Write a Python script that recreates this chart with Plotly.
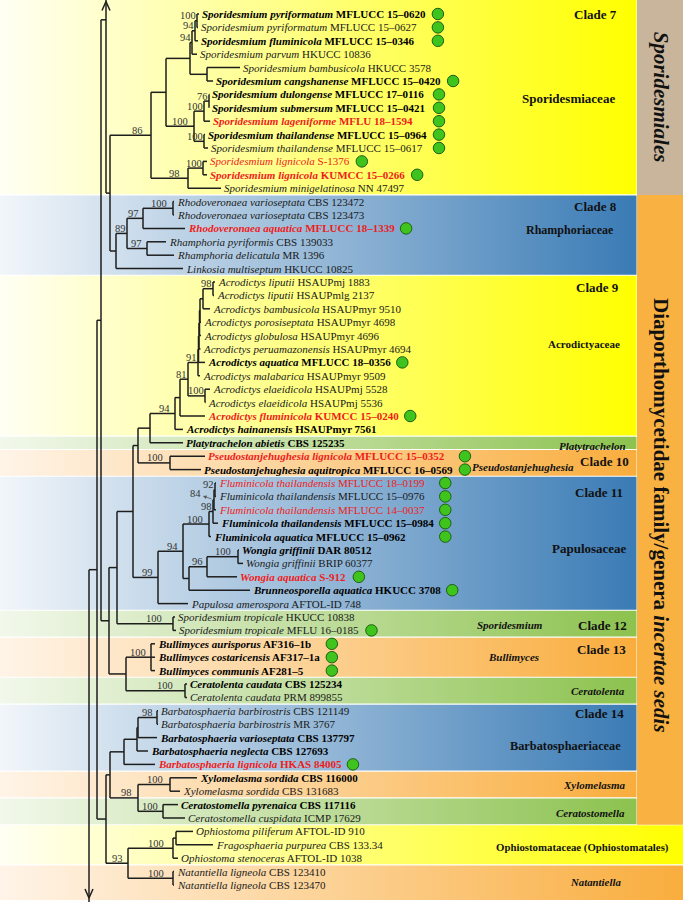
import plotly.graph_objects as go

# ---------------- leaf data (top to bottom) ----------------
taxa = [
    "Sporidesmium pyriformatum", "Sporidesmium pyriformatum", "Sporidesmium fluminicola",
    "Sporidesmium parvum", "Sporidesmium bambusicola", "Sporidesmium cangshanense",
    "Sporidesmium dulongense", "Sporidesmium submersum", "Sporidesmium lageniforme",
    "Sporidesmium thailandense", "Sporidesmium thailandense", "Sporidesmium lignicola",
    "Sporidesmium lignicola", "Sporidesmium minigelatinosa",
    "Rhodoveronaea varioseptata", "Rhodoveronaea varioseptata", "Rhodoveronaea aquatica",
    "Rhamphoria pyriformis", "Rhamphoria delicatula", "Linkosia multiseptum",
    "Acrodictys liputii", "Acrodictys liputii", "Acrodictys bambusicola",
    "Acrodictys porosiseptata", "Acrodictys globulosa", "Acrodictys peruamazonensis",
    "Acrodictys aquatica", "Acrodictys malabarica", "Acrodictys elaeidicola",
    "Acrodictys elaeidicola", "Acrodictys fluminicola", "Acrodictys hainanensis",
    "Platytrachelon abietis", "Pseudostanjehughesia lignicola", "Pseudostanjehughesia aquitropica",
    "Fluminicola thailandensis", "Fluminicola thailandensis", "Fluminicola thailandensis",
    "Fluminicola thailandensis", "Fluminicola aquatica", "Wongia griffinii",
    "Wongia griffinii", "Wongia aquatica", "Brunneosporella aquatica",
    "Papulosa amerospora", "Sporidesmium tropicale", "Sporidesmium tropicale",
    "Bullimyces aurisporus", "Bullimyces costaricensis", "Bullimyces communis",
    "Ceratolenta caudata", "Ceratolenta caudata", "Barbatosphaeria barbirostris",
    "Barbatosphaeria barbirostris", "Barbatosphaeria varioseptata", "Barbatosphaeria neglecta",
    "Barbatosphaeria lignicola", "Xylomelasma sordida", "Xylomelasma sordida",
    "Ceratostomella pyrenaica", "Ceratostomella cuspidata", "Ophiostoma piliferum",
    "Fragosphaeria purpurea", "Ophiostoma stenoceras", "Natantiella ligneola",
    "Natantiella ligneola",
]
strains = [
    "MFLUCC 15–0620", "MFLUCC 15–0627", "MFLUCC 15–0346", "HKUCC 10836", "HKUCC 3578",
    "MFLUCC 15–0420", "MFLUCC 17–0116", "MFLUCC 15–0421", "MFLU 18–1594", "MFLUCC 15–0964",
    "MFLUCC 15–0617", "S-1376", "KUMCC 15–0266", "NN 47497",
    "CBS 123472", "CBS 123473", "MFLUCC 18–1339", "CBS 139033", "MR 1396", "HKUCC 10825",
    "HSAUPmj 1883", "HSAUPmlg 2137", "HSAUPmyr 9510", "HSAUPmyr 4698", "HSAUPmyr 4696",
    "HSAUPmyr 4694", "MFLUCC 18–0356", "HSAUPmyr 9509", "HSAUPmj 5528", "HSAUPmj 5536",
    "KUMCC 15–0240", "HSAUPmyr 7561", "CBS 125235", "MFLUCC 15–0352", "MFLUCC 16–0569",
    "MFLUCC 18–0199", "MFLUCC 15–0976", "MFLUCC 14–0037", "MFLUCC 15–0984", "MFLUCC 15–0962",
    "DAR 80512", "BRIP 60377", "S-912", "HKUCC 3708", "AFTOL-ID 748",
    "HKUCC 10838", "MFLU 16–0185", "AF316–1b", "AF317–1a", "AF281–5",
    "CBS 125234", "PRM 899855", "CBS 121149", "MR 3767", "CBS 137797", "CBS 127693",
    "HKAS 84005", "CBS 116000", "CBS 131683", "CBS 117116", "ICMP 17629",
    "AFTOL-ID 910", "CBS 133.34", "AFTOL-ID 1038", "CBS 123410", "CBS 123470",
]
bold_flags = [1, 0, 1, 0, 0, 1, 1, 1, 1, 1, 0, 0, 1, 0,
              0, 0, 1, 0, 0, 0,
              0, 0, 0, 0, 0, 0, 1, 0, 0, 0, 1, 1,
              1, 1, 1,
              0, 0, 0, 1, 1, 1, 0, 1, 1, 0,
              0, 0, 1, 1, 1, 1, 0,
              0, 0, 1, 1, 1, 1, 0, 1, 0, 0, 0, 0, 0, 0]
red_flags = [0, 0, 0, 0, 0, 0, 0, 0, 1, 0, 0, 1, 1, 0,
             0, 0, 1, 0, 0, 0,
             0, 0, 0, 0, 0, 0, 0, 0, 0, 0, 1, 0,
             0, 1, 0,
             1, 0, 1, 0, 0, 0, 0, 1, 0, 0,
             0, 0, 0, 0, 0, 0, 0,
             0, 0, 0, 0, 1, 0, 0, 0, 0, 0, 0, 0, 0, 0]
# 0 = no marker; equal numbers share a marker column
dot_groups = [1, 1, 1, 0, 0, 2, 3, 3, 3, 3, 3, 4, 5, 0,
              0, 0, 6, 0, 0, 0,
              0, 0, 0, 0, 0, 0, 7, 0, 0, 0, 8, 0,
              0, 9, 9,
              10, 10, 10, 10, 10, 0, 0, 11, 12, 0,
              0, 13, 14, 14, 14, 0, 0,
              0, 0, 0, 0, 15, 0, 0, 0, 0, 0, 0, 0, 0, 0]

# ---------------- tree (Newick, branch lengths + bootstrap) ----------------
nwk_c7a = "(((L1:2,L2:1)100:2,L3:3)94:3,L4:5)94:2"
nwk_c7b = "(L5:33,L6:6):17"
nwk_c7c = "(((L7:0.5,L8:0)76:5,L9:6)100:10,(L10:1,L11:4)100:10)100:28"
nwk_c7d = "((L12:4,L13:4)100:15,L14:33)98:37"
nwk_clade8 = "((((L15:1,L16:1)100:30,L17:42)97:16,(L18:19,L19:27)97:20)89:11,L20:67):6"
nwk_c9comb = "((((((L21:2,L22:1)98:10,L23:7):3,L24:1):0.5,L25:1.5):0.5,L26:1.5):0.5,L27:6.5):0.5"
nwk_clade10 = "(L34:35,L35:31)100:32"
nwk_clade11 = ("((((((L36:1,L37:1)92:1,L38:2)84@:1,L39:5)98:4,L40:2)100:26,"
               "(((L41:1,L42:5)100:31,L43:30)96:18,L44:61):6)94:25,L45:30)99:25")
nwk_clade12 = "(L46:2,L47:3)100:56"
nwk_clade13 = "(L48:4,L49:4,L50:4)100:25"
nwk_ceratolenta = "(L51:2,L52:2)100:59"
nwk_clade14 = "((((L53:1,L54:1)98:19,L55:19):1,L56:11):13,L57:31):14"
nwk_xylo_cerato = "((L58:27,L59:10)100:32,(L60:15,L61:22)100:25)98:28"
nwk_ophio_natan = "(((L62:17,L63:37):3,L64:5)100:45,(L65:1,L66:1)100:45)93:22"

nwk_clade7 = "((({a},{b}):24,{c}):15,{d})86:41".format(a=nwk_c7a, b=nwk_c7b, c=nwk_c7c, d=nwk_c7d)
nwk_top = "(UP:0,({c7},{c8}):4):5".format(c7=nwk_clade7, c8=nwk_clade8)
nwk_clade9 = "(((({comb},L28:2)91:10,(L29:5,L30:0.5)100:17)81:8,L31:25):5,L32:8)94:25".format(comb=nwk_c9comb)
nwk_platy = "({c9},L33:33):12".format(c9=nwk_clade9)
newick = ("((({top},(((({c9},{c10}):5,{c11}):16,{c12}):8,({c13},{cer}):17):8):4,"
          "(({c14},{xc}):4,{on}):9):8,DOWN:0);").format(
    top=nwk_top, c9=nwk_platy, c10=nwk_clade10, c11=nwk_clade11, c12=nwk_clade12,
    c13=nwk_clade13, cer=nwk_ceratolenta, c14=nwk_clade14, xc=nwk_xylo_cerato, on=nwk_ophio_natan)
root_x = 89
virtual_rows = {"UP": -12.5, "DOWN": 70.0}   # branches continuing beyond the cropped view

# ---------------- coloured bands ----------------
band_first = [0, 14, 20, 32, 33, 35, 45, 47, 50, 52, 57, 59, 61, 64]
band_last = [13, 19, 31, 32, 34, 44, 46, 49, 51, 56, 58, 60, 63, 65]
band_kind = ["yellow", "blue", "yellow", "green", "orange", "blue", "green", "orange",
             "green", "blue", "orange", "green", "yellow", "orange"]
band_full = [0, 0, 0, 0, 0, 0, 0, 0, 0, 0, 0, 0, 1, 1]
band_colors = {
    "yellow": ("#fffff4", "#ffff00"),
    "blue": ("#f2f6fa", "#3a7bb5"),
    "green": ("#f2f8eb", "#8cc24e"),
    "orange": ("#fff4e8", "#f9ad3d"),
}
side_text = ["Clade 7", "Sporidesmiaceae", "Clade 8", "Rhamphoriaceae", "Clade 9",
             "Acrodictyaceae", "Platytrachelon", "Pseudostanjehughesia", "Clade 10",
             "Clade 11", "Papulosaceae", "Sporidesmium", "Clade 12", "Clade 13",
             "Bullimyces", "Ceratolenta", "Clade 14", "Barbatosphaeriaceae",
             "Xylomelasma", "Ceratostomella", "Ophiostomataceae (Ophiostomatales)", "Natantiella"]
side_italic = [0, 0, 0, 0, 0, 0, 1, 1, 0, 0, 0, 1, 0, 0, 1, 1, 0, 0, 1, 1, 0, 1]
order_text = ["<i>Sporidesmiales</i>", "Diaporthomycetidae family/genera <i>incertae sedis</i>"]
order_first = [0, 14]
order_last = [13, 60]
order_color = ["#c9b59c", "#f9b142"]

# ---------------- layout constants ----------------
W, H = 685, 902
Y0, YPX = 14.0, 13.4          # pixel centre of first row, pixels per row
FONT = "Liberation Serif, Times New Roman, serif"
BAND_R, COL_R = 636.5, 683.0
side_pos = [(595, 0), (568, 6.34), (595, 14.4), (570, 16.1), (597, 20.4), (584, 24.6),
            (592, 32.25), (523, 33.8), (604, 33.4), (599, 35.7), (589, 39.9), (510, 45.6),
            (602, 45.6), (601, 47.4), (513, 48.0), (598, 50.5), (599, 52.2), (565, 54.6),
            (594, 57.5), (590, 59.6), (582, 62.2), (595, 64.8)]
side_size = [13, 13, 13, 12, 13, 11, 11, 11, 13, 13, 13, 11, 13, 13, 11, 11, 13, 12.3,
             11, 11, 10.8, 10.8]
order_size = [21, 21]
order_shift = [0, -6]


def parse_newick(s):
    pos = [0]

    def node():
        n = {"children": [], "name": "", "bl": 0.0}
        if s[pos[0]] == "(":
            pos[0] += 1
            while True:
                n["children"].append(node())
                ch = s[pos[0]]
                pos[0] += 1
                if ch == ")":
                    break
        st = pos[0]
        while s[pos[0]] not in ",():;":
            pos[0] += 1
        n["name"] = s[st:pos[0]]
        if s[pos[0]] == ":":
            pos[0] += 1
            st = pos[0]
            while s[pos[0]] not in ",();":
                pos[0] += 1
            n["bl"] = float(s[st:pos[0]])
        return n
    return node()


def place(n, x0):
    n["x"] = x0 + n["bl"]
    if n["children"]:
        for c in n["children"]:
            place(c, n["x"])
        n["y"] = (n["children"][0]["y"] + n["children"][-1]["y"]) / 2
    else:
        nm = n["name"]
        n["y"] = virtual_rows[nm] if nm in virtual_rows else int(nm[1:]) - 1


tree = parse_newick(newick)
place(tree, root_x)

lx, ly = [], []
supports = []
tips = {}


def walk(n, parent=None):
    if parent is not None:
        lx.extend([parent["x"], n["x"], None])
        ly.extend([n["y"], n["y"], None])
    if n["children"]:
        lx.extend([n["x"], n["x"], None])
        ly.extend([n["children"][0]["y"], n["children"][-1]["y"], None])
        if n["name"] and parent is not None:
            supports.append((n["name"], parent["x"], n["x"], n["y"]))
        for c in n["children"]:
            walk(c, n)
    else:
        tips[n["name"]] = n


walk(tree)


def row_of(px):
    return (px - Y0) / YPX


fig = go.Figure()

# bands with horizontal gradient
for f, l, k, full in zip(band_first, band_last, band_kind, band_full):
    top = f - 0.5 + 0.04 if f > 0 else row_of(0)
    bot = l + 0.5 - 0.04 if l < 65 else row_of(900)
    right = COL_R if full else BAND_R
    c0, c1 = band_colors[k]
    fig.add_trace(go.Scatter(
        x=[0, right, right, 0, 0], y=[top, top, bot, bot, top], mode="lines",
        line=dict(width=0), fill="toself", hoverinfo="skip",
        fillgradient=dict(type="horizontal", colorscale=[[0, c0], [1, c1]], start=0, stop=right)))

# order columns
for f, l, c in zip(order_first, order_last, order_color):
    top = f - 0.5 if f > 0 else row_of(0)
    bot = l + 0.5
    fig.add_trace(go.Scatter(
        x=[BAND_R + 0.5, COL_R, COL_R, BAND_R + 0.5, BAND_R + 0.5], y=[top, top, bot, bot, top],
        mode="lines", line=dict(width=0), fill="toself", fillcolor=c, hoverinfo="skip"))

# tree branches
fig.add_trace(go.Scatter(x=lx, y=ly, mode="lines", line=dict(color="#1e1e1e", width=1.5),
                         hoverinfo="skip"))

# arrowheads on the truncated backbone branches
up_x = tips["UP"]["x"]
dn_x = tips["DOWN"]["x"]
ax_, ay_ = [], []
for bx, tip_px, d in [(up_x, 1.5, 1), (dn_x, 898.0, -1)]:
    ax_.extend([bx - 4, bx, bx + 4, None])
    ay_.extend([row_of(tip_px + d * 9), row_of(tip_px), row_of(tip_px + d * 9), None])
fig.add_trace(go.Scatter(x=ax_, y=ay_, mode="lines", line=dict(color="#1e1e1e", width=1.5),
                         hoverinfo="skip"))

# text width estimate (Times metrics) for marker placement
_U = "ABCDEFGHIJKLMNOPQRSTUVWXYZ"
_L = "abcdefghijklmnopqrstuvwxyz"
WID = {
    "r": dict(zip(_U + _L, [722, 667, 667, 722, 611, 556, 722, 722, 333, 389, 722, 611, 889, 722, 722, 556, 722, 667, 556, 611, 722, 722, 944, 722, 722, 611,
                            444, 500, 444, 500, 444, 333, 500, 500, 278, 278, 500, 278, 778, 500, 500, 500, 500, 333, 389, 278, 500, 500, 722, 500, 500, 444])),
    "b": dict(zip(_U + _L, [722, 667, 722, 722, 667, 611, 778, 778, 389, 500, 778, 667, 944, 722, 778, 611, 778, 722, 556, 667, 722, 722, 1000, 722, 722, 667,
                            500, 556, 444, 556, 444, 333, 500, 556, 278, 333, 556, 278, 833, 556, 500, 556, 556, 444, 389, 333, 556, 500, 722, 500, 500, 444])),
    "i": dict(zip(_U + _L, [611, 611, 667, 722, 611, 611, 722, 722, 333, 444, 667, 556, 833, 667, 722, 611, 722, 611, 500, 556, 722, 611, 833, 611, 556, 556,
                            500, 500, 444, 500, 444, 278, 500, 500, 278, 278, 444, 278, 722, 500, 500, 500, 500, 389, 389, 278, 500, 444, 667, 444, 444, 389])),
    "bi": dict(zip(_U + _L, [667, 667, 667, 722, 667, 667, 722, 778, 389, 500, 667, 611, 889, 722, 722, 611, 722, 667, 556, 611, 722, 667, 889, 667, 611, 611,
                             500, 500, 444, 500, 444, 333, 500, 556, 278, 278, 500, 278, 778, 556, 500, 500, 500, 389, 389, 278, 556, 444, 667, 500, 444, 389])),
}
OTHER = {" ": 250, "–": 500, "-": 333, ".": 250, "/": 278}


def text_w(s, style, size):
    t = 0
    for ch in s:
        t += WID[style].get(ch, OTHER.get(ch, 500))
    return t * size / 1000.0


LEAF_FS = 11
ends = []
annotations = []
for i in range(66):
    tip = tips["L%d" % (i + 1)]
    tx = tip["x"] + 0.5
    b = bold_flags[i]
    label = "<i>%s</i> %s" % (taxa[i], strains[i])
    if b:
        label = "<b>%s</b>" % label
    color = "#ee1c1c" if red_flags[i] else ("#000000" if b else "#1a1a1a")
    annotations.append(dict(x=tx, y=i, text=label, showarrow=False, xanchor="left", yanchor="middle",
                            font=dict(family=FONT, size=LEAF_FS, color=color)))
    w = text_w(taxa[i], "bi" if b else "i", LEAF_FS) + text_w(" " + strains[i], "b" if b else "r", LEAF_FS)
    ends.append(tx + 2 + w)

# green markers
group_end = {}
for i, g in enumerate(dot_groups):
    if g:
        group_end[g] = max(group_end.get(g, 0), ends[i])
dx = [group_end[g] + 13 for g in dot_groups if g]
dy = [i for i, g in enumerate(dot_groups) if g]
fig.add_trace(go.Scatter(x=dx, y=dy, mode="markers", hoverinfo="skip",
                         marker=dict(size=11.5, color="#3fc41e", line=dict(color="#1f5f14", width=1))))

# bootstrap supports
SUP_FS = 10.5
for name, px, nx, ny in supports:
    val = name.rstrip("@")
    w = len(val) * SUP_FS * 0.5
    if name.endswith("@"):
        annotations.append(dict(x=nx - 19, y=ny - 0.45, text=val, showarrow=False,
                                font=dict(family=FONT, size=SUP_FS, color="#333333")))
        annotations.append(dict(x=nx - 11, y=ny - 0.28, ax=nx - 1, ay=ny - 0.02, axref="x", ayref="y",
                                text="", showarrow=True, arrowhead=2, arrowsize=0.9, arrowwidth=0.8,
                                arrowcolor="#555555"))
        continue
    L = nx - px
    right = nx - 0.18 * L - 1
    if right - w < px:
        right = nx - 1
    annotations.append(dict(x=right + 2, y=ny, text=val, showarrow=False, xanchor="right",
                            yanchor="bottom", yshift=-2.5,
                            font=dict(family=FONT, size=SUP_FS, color="#333333")))

# side labels
for t, it, (sx, sy), fs in zip(side_text, side_italic, side_pos, side_size):
    txt = "<b><i>%s</i></b>" % t if it else "<b>%s</b>" % t
    annotations.append(dict(x=sx, y=sy, text=txt, showarrow=False, xanchor="center", yanchor="middle",
                            font=dict(family=FONT, size=fs, color="#111111")))

# order column labels
for t, f, l, fs, sh in zip(order_text, order_first, order_last, order_size, order_shift):
    top = f - 0.5 if f > 0 else row_of(0)
    annotations.append(dict(x=(BAND_R + COL_R) / 2 + 1, y=(top + l + 0.5) / 2, text="<b>%s</b>" % t,
                            showarrow=False, textangle=90, xanchor="center", yanchor="middle",
                            yshift=sh, font=dict(family=FONT, size=fs, color="#111111")))

fig.update_layout(
    width=W, height=H, margin=dict(l=0, r=0, t=0, b=0),
    paper_bgcolor="white", plot_bgcolor="white", showlegend=False, hovermode=False,
    xaxis=dict(range=[0, W], visible=False, fixedrange=True),
    yaxis=dict(range=[row_of(H), row_of(0)], visible=False, fixedrange=True),
    annotations=annotations,
)

fig.write_html("out.html", config={"displayModeBar": False},
               post_script="document.body.style.margin='0';document.body.style.overflow='hidden';")
